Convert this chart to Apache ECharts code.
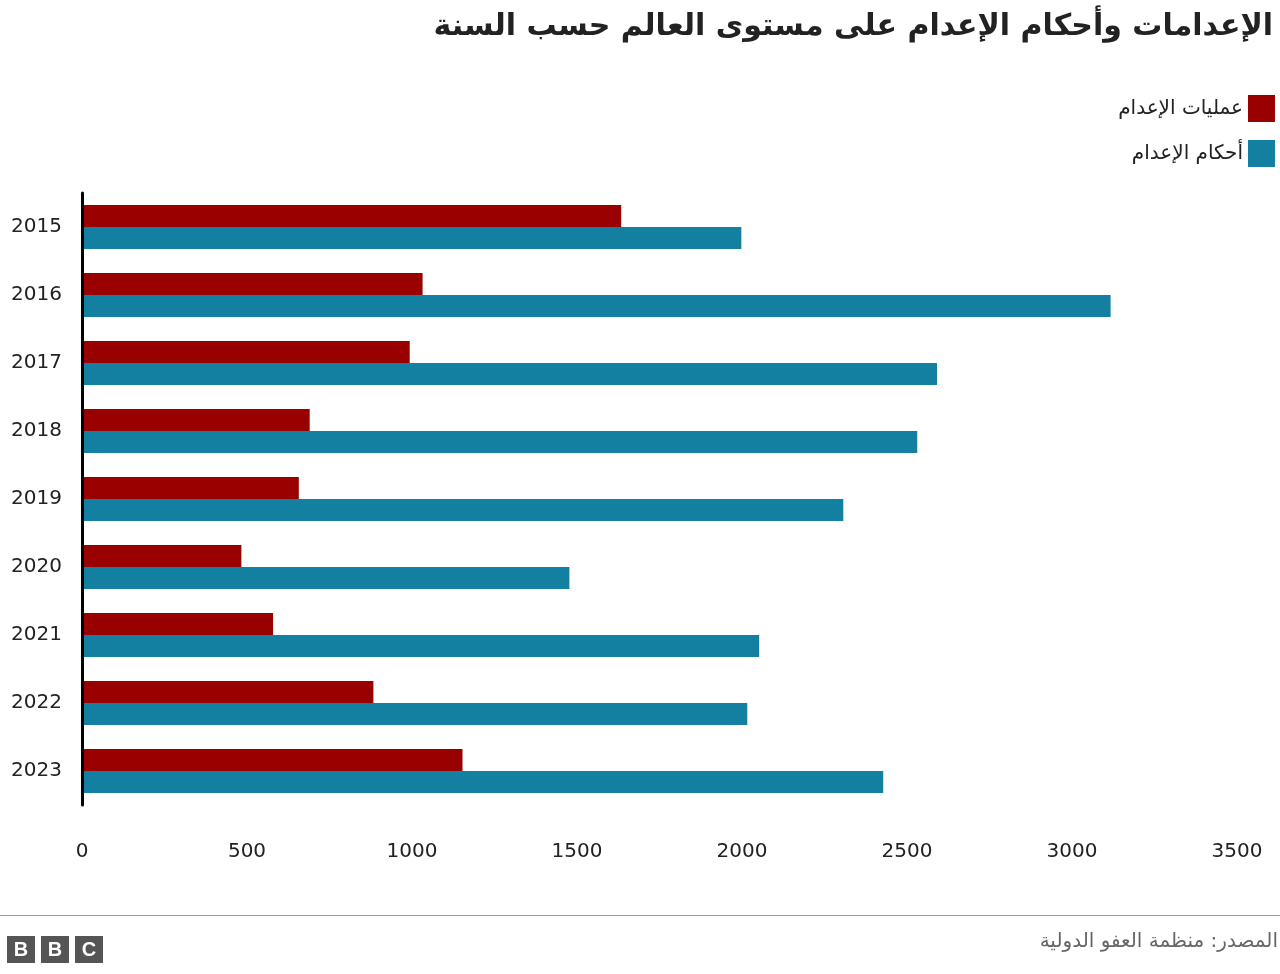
<!DOCTYPE html>
<html><head><meta charset="utf-8">
<script src="https://cdn.jsdelivr.net/npm/echarts@6/dist/echarts.min.js"></script>
<style>html,body{margin:0;padding:0;background:#fff}#container{width:1280px;height:974px}</style>
</head><body><div id="container"></div>
<script>
var years = ['2015','2016','2017','2018','2019','2020','2021','2022','2023'];
var executions = [1634, 1032, 993, 690, 657, 483, 579, 883, 1153];
var sentences = [1998, 3117, 2591, 2531, 2307, 1477, 2052, 2016, 2428];
var xTicks = [0, 500, 1000, 1500, 2000, 2500, 3000, 3500];

var myChart = echarts.init(document.getElementById('container'));
var font = '"DejaVu Sans", "Noto Sans", sans-serif';
var option = {
  animation: false,
  textStyle: {fontFamily: font},
  title: {
    text: 'الإعدامات وأحكام الإعدام على مستوى العالم حسب السنة',
    right: 2, top: 7,
    textStyle: {fontSize: 30, fontWeight: 'bold', color: '#222', fontFamily: font}
  },
  legend: {
    data: ['عمليات الإعدام', 'أحكام الإعدام'],
    orient: 'vertical', right: 0, top: 90, align: 'right', icon: 'rect',
    itemWidth: 27, itemHeight: 27, itemGap: 18,
    textStyle: {fontSize: 20, color: '#222'}
  },
  grid: {left: 82, right: 43, top: 193, bottom: 169},
  xAxis: {
    type: 'value', min: 0, max: 3500, interval: 500,
    axisLine: {show: false}, axisTick: {show: false}, splitLine: {show: false},
    axisLabel: {margin: 37, fontSize: 20, color: '#222',
      formatter: function (v) { return xTicks.indexOf(v) >= 0 ? String(v) : ''; }}
  },
  yAxis: {
    type: 'category', data: years, inverse: true, z: 5,
    axisLine: {lineStyle: {color: '#000', width: 3}},
    axisTick: {show: false},
    axisLabel: {margin: 20, fontSize: 20, color: '#222', padding: [10, 0, 0, 0]}
  },
  series: [
    {name: 'عمليات الإعدام', type: 'bar', data: executions, barGap: 0, barCategoryGap: '35%',
     itemStyle: {color: '#990000'}},
    {name: 'أحكام الإعدام', type: 'bar', data: sentences,
     itemStyle: {color: '#1380A1'}}
  ],
  graphic: [
    {type: 'rect', shape: {x: 0, y: 915, width: 1280, height: 1}, style: {fill: '#999'}},
    {type: 'text', right: 2, top: 932, style: {text: 'المصدر: منظمة العفو الدولية', fontSize: 20, fill: '#666', fontFamily: font}},
    {type: 'group', left: 7, top: 936, children: [
      {type: 'rect', shape: {x: 0, y: 0, width: 28, height: 27}, style: {fill: '#555'}},
      {type: 'text', x: 14, y: 14, style: {text: 'B', fontSize: 20, fontWeight: 'bold', fill: '#fff', align: 'center', verticalAlign: 'middle'}},
      {type: 'rect', shape: {x: 34, y: 0, width: 28, height: 27}, style: {fill: '#555'}},
      {type: 'text', x: 48, y: 14, style: {text: 'B', fontSize: 20, fontWeight: 'bold', fill: '#fff', align: 'center', verticalAlign: 'middle'}},
      {type: 'rect', shape: {x: 68, y: 0, width: 28, height: 27}, style: {fill: '#555'}},
      {type: 'text', x: 82, y: 14, style: {text: 'C', fontSize: 20, fontWeight: 'bold', fill: '#fff', align: 'center', verticalAlign: 'middle'}}
    ]}
  ]
};
myChart.setOption(option);
window.onresize = myChart.resize;
</script></body></html>
